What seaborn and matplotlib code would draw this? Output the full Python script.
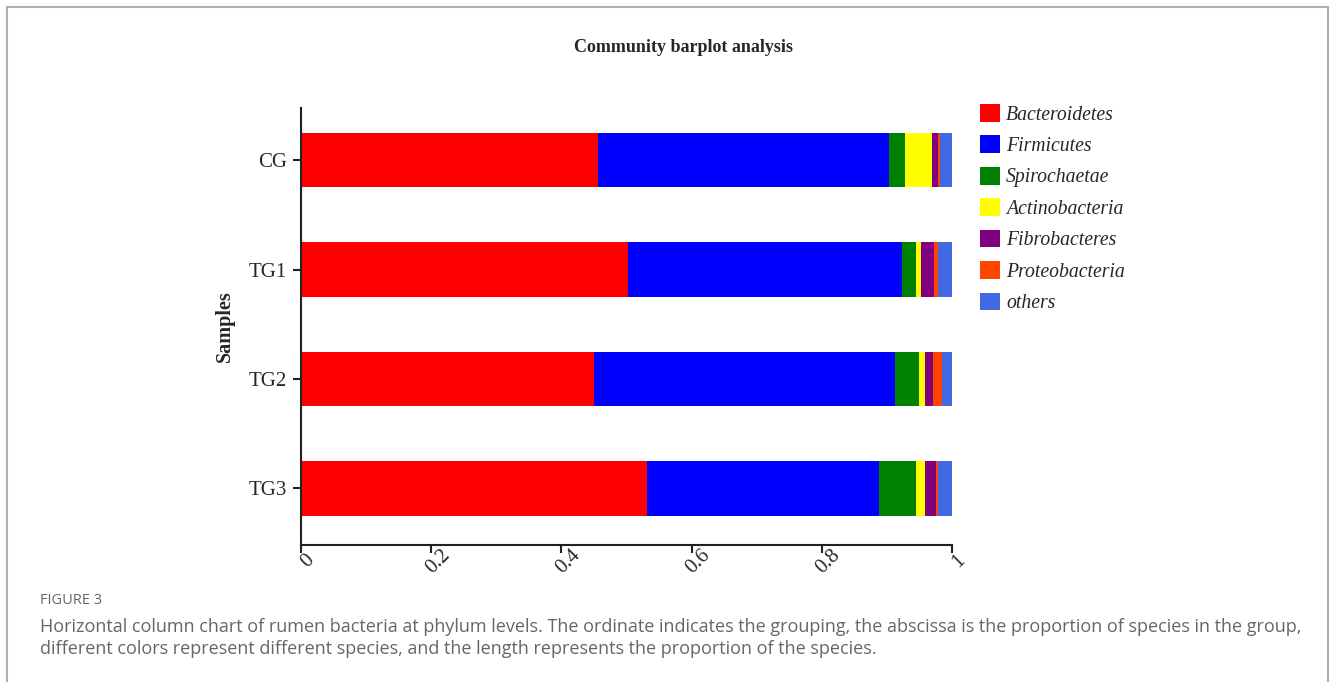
import matplotlib
matplotlib.use("Agg")
import matplotlib.pyplot as plt
from matplotlib.patches import Patch, Rectangle
import seaborn as sns
import numpy as np
import pandas as pd

samples = ["CG", "TG1", "TG2", "TG3"]
phyla = ["Bacteroidetes", "Firmicutes", "Spirochaetae", "Actinobacteria",
         "Fibrobacteres", "Proteobacteria", "others"]
colors = ["#ff0000", "#0000ff", "#008000", "#ffff00", "#800080", "#ff4500", "#4169e1"]

bacteroidetes = [0.456, 0.502, 0.450, 0.531]
firmicutes = [0.447, 0.421, 0.463, 0.357]
spirochaetae = [0.025, 0.022, 0.037, 0.057]
actinobacteria = [0.041, 0.008, 0.009, 0.014]
fibrobacteres = [0.010, 0.019, 0.012, 0.016]
proteobacteria = [0.003, 0.007, 0.014, 0.004]
others = [0.018, 0.021, 0.015, 0.021]

xticks = [0, 0.2, 0.4, 0.6, 0.8, 1]
xticklabels = ["0", "0.2", "0.4", "0.6", "0.8", "1"]

series = [bacteroidetes, firmicutes, spirochaetae, actinobacteria,
          fibrobacteres, proteobacteria, others]
df = pd.DataFrame({p: v for p, v in zip(phyla, series)}, index=samples)
cum = df.cumsum(axis=1)

sns.set_theme(style="white")
plt.rcParams["font.family"] = ["Liberation Serif", "DejaVu Serif"]

W, H = 1331, 682
fig = plt.figure(figsize=(W / 100, H / 100), dpi=100)
ax = fig.add_axes([301 / W, 1 - 545 / H, (952 - 301) / W, (545 - 108) / H])

# stacked bars: draw cumulative totals from last to first
for p, c in reversed(list(zip(phyla, colors))):
    d = pd.DataFrame({"sample": samples, "value": cum[p].values})
    sns.barplot(data=d, x="value", y="sample", color=c, orient="h",
                width=0.5, linewidth=0, saturation=1, ax=ax)

ax.set_xlim(0, 1)
ax.set_ylim(3.516, -0.475)
ax.set_xticks(xticks)
ax.set_xticklabels(xticklabels, rotation=45, ha="center", va="top",
                   rotation_mode="anchor", fontsize=15)
ax.tick_params(axis="x", length=6, width=1.5, color="#222222", pad=1, bottom=True)
ax.tick_params(axis="y", length=6, width=1.5, color="#222222", pad=4, left=True)
for lab in ax.get_yticklabels():
    lab.set_fontsize(15)
for s in ["top", "right"]:
    ax.spines[s].set_visible(False)
for s in ["left", "bottom"]:
    ax.spines[s].set_color("#222222")
    ax.spines[s].set_linewidth(1.5)
ax.set_xlabel("")
ax.set_ylabel("Samples", fontsize=14.5, fontweight="bold", labelpad=10)

fig.text(683 / W, 1 - 47 / H, "Community barplot analysis", ha="center", va="center",
         fontsize=13, fontweight="bold")

handles = [Patch(facecolor=c, edgecolor="none") for c in colors]
leg = fig.legend(handles, phyla, loc="upper left",
                 bbox_to_anchor=(980 / W, 1 - 104 / H), frameon=False,
                 prop={"family": "Liberation Serif", "style": "italic", "size": 14.2},
                 handlelength=1.0, handleheight=1.0, handletextpad=0.32,
                 labelspacing=0.55, borderaxespad=0, borderpad=0)

# outer frame
fig.patches.append(Rectangle((7 / W, -0.05), (1328 - 7) / W, 1.05 - 7 / H,
                             transform=fig.transFigure, fill=False,
                             edgecolor="#b0b0b0", linewidth=1.5))

fig.text(40 / W, 1 - 601 / H, "FIGURE 3", ha="left", va="center", fontsize=10.5,
         color="#666666", family=["Open Sans", "DejaVu Sans"])
fig.text(40 / W, 1 - 627 / H,
         "Horizontal column chart of rumen bacteria at phylum levels. The ordinate indicates the grouping, "
         "the abscissa is the proportion of species in the group,",
         ha="left", va="center", fontsize=13, color="#666666",
         family=["Open Sans", "DejaVu Sans"])
fig.text(40 / W, 1 - 649 / H,
         "different colors represent different species, and the length represents the proportion of the species.",
         ha="left", va="center", fontsize=13, color="#666666",
         family=["Open Sans", "DejaVu Sans"])

fig.savefig("out.png", dpi=100)
